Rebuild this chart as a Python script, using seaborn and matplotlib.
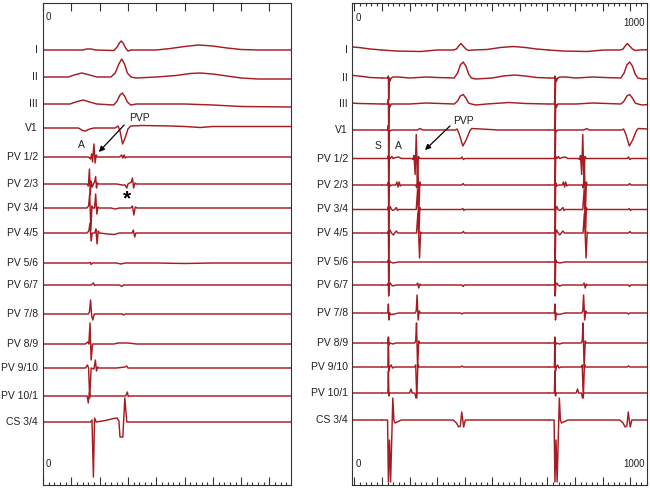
import pandas as pd
import matplotlib
matplotlib.use("Agg")
import matplotlib.pyplot as plt
from matplotlib.ticker import MultipleLocator
import seaborn as sns

# channel names, top to bottom
channels = ["I", "II", "III", "V1", "PV 1/2", "PV 2/3", "PV 3/4", "PV 4/5",
            "PV 5/6", "PV 6/7", "PV 7/8", "PV 8/9", "PV 9/10", "PV 10/1", "CS 3/4"]

# ---- left panel (sinus beat), vertices: (ms, deflection)
left_I = [(0, 0), (140, 0), (155, 1), (170, 1), (185, 0), (250, -0.5), (262, 3), (270, 7), (276, 9),
          (283, 7), (292, 2), (300, -1), (312, 0), (400, 0), (450, 1.5), (500, 3.5), (550, 5),
          (600, 4), (650, 2), (700, 0.5), (760, 0), (876, 0)]
left_II = [(0, 0), (90, 0), (110, 2), (137, 4), (165, 2), (190, 0), (240, 0), (255, 4), (268, 13),
           (278, 18), (288, 13), (298, 4), (311, 0), (330, -1), (400, 0), (470, 1.5), (520, 3.5),
           (555, 4), (600, 3), (650, 1), (700, -1), (760, -2), (876, -2)]
left_III = [(0, 0), (95, 0), (115, 2), (142, 4), (165, 2), (190, 0), (250, -1), (262, 3), (272, 9),
            (280, 11), (288, 8), (298, 2), (310, -1), (330, 0), (500, 0), (600, -1), (700, -2.5),
            (876, -3)]
left_V1 = [(0, 0), (125, 0), (140, -2.5), (150, -3), (165, -1), (180, 0), (255, 0), (265, 2),
           (272, -3), (281, -16), (290, -10), (300, -1), (310, 2), (350, 2.5), (450, 2), (500, 1.5),
           (555, 0.5), (600, 1.5), (700, 1.5), (876, 1.5)]
left_PV12 = [(0, 0), (160, 0), (165, -1), (168, -2), (172, 3), (175, -5), (180, 13), (184, -6),
             (188, 2), (192, 0), (270, 0), (278, 2), (281, -1), (284, 0), (287, 2), (290, -1),
             (294, 0), (876, 0)]
left_PV23 = [(0, 0), (155, 0), (160, -2), (164, 15), (167, -11), (170, 3), (174, -3), (178, 0),
             (182, 2), (186, 7.5), (189, -4), (192, 1), (196, 0), (260, 0), (280, -1), (290, -1),
             (296, -4), (300, 0), (312, 2), (316, 6), (320, -4), (325, 1), (330, 0), (876, 0)]
left_PV34 = [(0, 0), (155, 0), (161, 2), (165, 14), (169, -22), (173, 2), (177, 0), (182, 0),
             (186, 14), (190, -6), (194, 1), (198, 0), (240, 0), (255, -1), (270, 0), (310, 0),
             (316, 2), (321, -7), (326, 1), (332, 0), (876, 0)]
left_PV45 = [(0, 0), (155, 0), (162, 2), (166, 10), (170, -8), (174, 0), (183, 0), (187, 4),
             (191, -11), (195, 2), (199, 0), (230, -1), (250, -1.5), (270, 0), (315, 0), (319, 3),
             (324, -4), (328, 0), (876, 0)]
left_PV56 = [(0, 0), (160, 0), (167, 0.5), (170, -1.5), (174, 0), (260, 0), (275, -1), (290, 0),
             (400, 0), (500, -0.5), (600, 0), (876, 0)]
left_PV67 = [(0, 0), (170, 0), (178, 2), (182, -0.5), (186, 0), (270, 0), (278, -1.5), (284, 0),
             (876, 0)]
left_PV78 = [(0, 0), (160, 0), (164, 2), (168, 14), (172, -2), (176, -6), (181, 0), (280, 0),
             (285, -1), (290, 0), (876, 0)]
left_PV89 = [(0, 0), (150, 0), (158, 2), (162, 0), (166, 21), (170, -16), (175, 0), (185, 0),
             (250, 0), (265, 1), (300, 1), (330, 0), (876, 0)]
left_PV910 = [(0, 0), (150, 0), (157, 3), (161, 0), (165, -30), (170, 0), (180, -1), (185, 8),
              (189, -3), (193, 1), (197, 0), (260, 0), (290, 1), (296, 2), (300, 0), (876, 0)]
left_PV101 = [(0, 0), (150, 0), (156, 0), (160, -7), (164, 4), (168, 0), (292, 0), (298, 4),
              (301, -0.5), (305, 0), (876, 0)]
left_CS34 = [(0, 0), (168, 0), (173, 2), (178, -55), (182, 4), (188, 0), (220, 1.5), (250, 3.5),
             (262, 4), (268, 1), (272, -15), (282, -15), (289, 24), (296, 0), (876, 0)]

# ---- right panel (paced), one cycle of the tracing, repeated at the pacing interval
right_I = [(100, 0), (150, -1), (240, -1.5), (300, 0), (360, 0), (370, 1), (378, 4), (386, 6.5),
           (394, 4), (404, 1), (414, -0.5), (430, 0), (480, 0.5), (530, 2.5), (576, 3.5), (620, 2.5),
           (660, 1), (704, 0)]
right_II = [(100, 0), (121, 0), (123, 2), (124, -22), (126, 0), (129, -3), (133, 0), (140, 1),
            (160, 1), (200, 0), (260, 1), (300, 0.5), (362, 0), (374, 5), (384, 13), (394, 16),
            (404, 12), (414, 4), (424, 0), (440, -1), (500, 0), (540, 2), (580, 3), (620, 2),
            (660, 0.5), (704, 0)]
right_III = [(100, 0), (121, 0), (123, 5), (124, -25), (126, 0), (129, -3), (133, 0), (200, 0),
             (260, 1), (362, 0), (374, 3), (384, 8), (394, 9.5), (404, 6), (414, 1), (424, 0),
             (440, -1), (480, 0), (560, 1.5), (620, 0.5), (704, 0)]
right_V1 = [(100, 0), (121, 0), (123, 5), (124, -28), (126, 0), (130, -1), (135, 0), (228, 0),
            (238, 1.5), (248, 0), (365, 0), (372, 1), (380, -4), (393, -16), (405, -10), (418, -1),
            (425, 1.5), (460, 1), (520, 0), (704, 0)]
right_PV12 = [(100, 0), (121, 0), (123, 3), (124, -26), (126, 2), (130, 0), (136, 2), (140, 0),
              (150, 1), (160, 1.5), (170, 0), (208, 0), (212, -1), (216, 3), (220, -16), (224, 24),
              (228, -20), (232, 2), (236, 0), (385, 0), (390, 1.5), (395, -1), (400, 0), (704, 0)]
right_PV23 = [(100, 0), (121, 0), (123, 3), (124, -25), (126, 2), (130, -1), (135, 0), (150, 0),
              (154, 3), (158, -2), (162, 3), (166, -1), (170, 0), (222, 0), (226, -3), (230, 20),
              (234, -24), (237, 3), (240, 0), (390, 0), (394, 1.5), (398, 0), (704, 0)]
right_PV34 = [(100, 0), (121, 0), (123, 3), (124, -24), (126, 0), (130, 3), (134, 0), (140, -1),
              (146, 0), (152, 2), (156, -1), (160, 0), (224, 0), (229, 20), (234, -24), (237, 2),
              (240, 0), (388, 0), (393, 1), (397, -1), (400, 0), (704, 0)]
right_PV45 = [(100, 0), (121, 0), (123, 2), (124, -28), (126, 0), (129, 3), (134, 0), (141, -2),
              (146, 0), (152, 2), (157, 0), (225, 0), (230, 20), (236, -25), (240, 1), (244, 0),
              (390, 0), (395, 1.5), (399, 0), (704, 0)]
right_PV56 = [(100, 0), (121, 0), (123, 2), (124, -24), (126, 2), (130, 0), (140, -1), (160, 0),
              (704, 0)]
right_PV67 = [(100, 0), (121, 0), (123, 2), (124, -11), (126, 0), (130, 2), (134, 0), (140, -1),
              (150, 0), (225, 0), (229, 2), (233, -3), (237, 1), (240, 0), (390, 0), (394, -1.5),
              (398, 0), (704, 0)]
right_PV78 = [(100, 0), (121, 0), (123, 9), (125, -7), (128, 0), (132, -1.5), (145, -1), (160, 0),
              (220, 0), (224, 2), (227, 18), (231, -7), (235, 2), (239, 0), (385, 0), (390, -1),
              (395, 0), (704, 0)]
right_PV89 = [(100, 0), (121, 0), (123, 6), (125, -2), (128, 0), (140, -1), (150, 0), (218, 0),
              (222, 2), (225, 20), (229, -25), (233, 2), (237, 0), (704, 0)]
right_PV910 = [(100, 0), (121, 0), (123, 29), (125, -4), (128, 0), (133, 2), (138, -1), (145, 0),
               (218, 0), (222, 2), (226, -31), (230, 3), (234, 0), (385, 0), (390, 1), (395, 0),
               (704, 0)]
right_PV101 = [(100, 0), (121, 0), (123, 22), (125, -3), (128, 0), (200, 0), (205, 4), (209, 0),
               (219, 0), (223, -5), (227, 0), (704, 0)]
right_CS34 = [(100, 0), (120, 0), (123, -62), (127, -20), (131, -62), (136, -10), (139, 22),
              (143, 0), (147, -3), (155, -2), (170, 0), (358, 0), (370, -3), (378, -7), (384, -6),
              (389, 8), (396, -7), (402, 0), (704, 0)]

cycle_shifts = [-604, 0, 604]   # pacing cycle 604 ms

left_data = [left_I, left_II, left_III, left_V1, left_PV12, left_PV23, left_PV34, left_PV45,
             left_PV56, left_PV67, left_PV78, left_PV89, left_PV910, left_PV101, left_CS34]
right_data = [right_I, right_II, right_III, right_V1, right_PV12, right_PV23, right_PV34,
              right_PV45, right_PV56, right_PV67, right_PV78, right_PV89, right_PV910,
              right_PV101, right_CS34]

# layout (image pixel rows of each baseline)
left_rows = [50, 77, 104, 128, 157, 184, 208, 233, 263, 285, 314, 344, 368, 396, 422]
right_rows = [50, 78, 104, 130, 158.5, 185, 209.5, 233, 262, 285, 313, 343, 367, 393, 420]

W, H = 650, 488
trace_col = "#a51d22"

rows = []
for name, base, verts in zip(channels, left_rows, left_data):
    for t, a in verts:
        rows.append({"trace": name, "t": t, "y": base - a})
df_left = pd.DataFrame(rows)

rows = []
for name, base, verts in zip(channels, right_rows, right_data):
    for k, sh in enumerate(cycle_shifts):
        for t, a in verts:
            rows.append({"trace": f"{name}_{k}", "t": t + sh, "y": base - a})
df_right = pd.DataFrame(rows)

sns.set_style("white")
plt.rcParams["font.family"] = ["Liberation Sans", "DejaVu Sans"]

fig = plt.figure(figsize=(6.5, 4.88), dpi=100)
axL = fig.add_axes([43 / W, 3 / H, 248 / W, 482 / H])
axR = fig.add_axes([352 / W, 3 / H, 295 / W, 482 / H])

for ax, df, xlim in [(axL, df_left, (0, 876)), (axR, df_right, (-9, 1061))]:
    sns.lineplot(data=df, x="t", y="y", units="trace", estimator=None, sort=False,
                 color=trace_col, linewidth=1.05, ax=ax, legend=False)
    ax.set_xlim(*xlim)
    ax.set_ylim(485, 3)
    ax.set_xlabel("")
    ax.set_ylabel("")
    ax.set_yticks([])
    ax.xaxis.set_major_locator(MultipleLocator(100))
    ax.xaxis.set_minor_locator(MultipleLocator(20))
    ax.tick_params(axis="x", which="both", direction="in", top=True, bottom=True,
                   labelbottom=False, labeltop=False, color="#333333", width=0.8)
    ax.tick_params(axis="x", which="major", length=5.5)
    ax.tick_params(axis="x", which="minor", length=2.5)
    for sp in ax.spines.values():
        sp.set_color("#333333")
        sp.set_linewidth(0.8)
axL.tick_params(axis="x", which="minor", top=False)


def ftext(x, y, s, **kw):
    fig.text(x / W, 1 - y / H, s, **kw)


def farrow(x0, y0, x1, y1):
    fig.add_artist(matplotlib.patches.FancyArrowPatch(
        (x0 / W, 1 - y0 / H), (x1 / W, 1 - y1 / H), transform=fig.transFigure,
        arrowstyle="-|>", mutation_scale=8, lw=0.9, color="black"))


for name, y in zip(channels, left_rows):
    ftext(38, y, name, ha="right", va="center", fontsize=7.5, color="#222222")
for name, y in zip(channels, right_rows):
    ftext(348, y, name, ha="right", va="center", fontsize=7.5, color="#222222")

# scale marks
ftext(46, 17, "0", ha="left", va="center", fontsize=7, color="#222222")
ftext(46, 464, "0", ha="left", va="center", fontsize=7, color="#222222")
ftext(356, 18, "0", ha="left", va="center", fontsize=7, color="#222222")
ftext(356, 464, "0", ha="left", va="center", fontsize=7, color="#222222")
ftext(645, 23, "1000", ha="right", va="center", fontsize=7, color="#222222")
ftext(645, 464, "1000", ha="right", va="center", fontsize=7, color="#222222")

# annotations
ftext(81, 145, "A", ha="center", va="center", fontsize=7.5, color="#222222")
ftext(139, 118, "PVP", ha="center", va="center", fontsize=7.5, color="#222222")
farrow(126, 123, 97, 154)
ftext(127, 199, "*", ha="center", va="center", fontsize=15, fontweight="bold", color="black")

ftext(378, 146, "S", ha="center", va="center", fontsize=7.5, color="#222222")
ftext(398, 146, "A", ha="center", va="center", fontsize=7.5, color="#222222")
ftext(463, 121, "PVP", ha="center", va="center", fontsize=7.5, color="#222222")
farrow(452, 124, 423, 152)

fig.savefig("out.png", dpi=100)
